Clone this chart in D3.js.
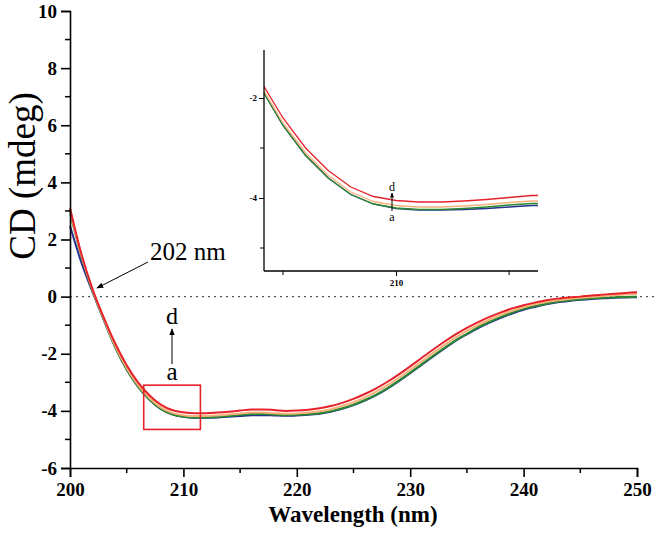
<!DOCTYPE html>
<html>
<head>
<meta charset="utf-8">
<script src="https://cdn.jsdelivr.net/npm/d3@7"></script>
<style>
  body { margin: 0; background: #fff; }
  svg { display: block; }
  .tick text { font-family: "Liberation Serif", serif; font-weight: bold; }
</style>
</head>
<body>
<div id="chart"></div>
<script>
// wavelength grid (nm)
var wavelengths = d3.range(200, 251, 1);

// CD signal (mdeg) for samples a-d
var seriesA = [2.47, 1.20, 0.15, -0.84, -1.78, -2.55, -3.15, -3.60, -3.93, -4.12, -4.21, -4.24, -4.24, -4.23, -4.21, -4.18, -4.15, -4.15, -4.16, -4.17, -4.16, -4.14, -4.10, -4.03, -3.93, -3.80, -3.64, -3.45, -3.22, -2.96, -2.68, -2.39, -2.10, -1.82, -1.55, -1.32, -1.10, -0.91, -0.74, -0.59, -0.46, -0.36, -0.27, -0.20, -0.15, -0.11, -0.08, -0.06, -0.04, -0.03, -0.02];
var seriesB = [2.95, 1.42, 0.20, -0.82, -1.78, -2.55, -3.15, -3.60, -3.93, -4.12, -4.20, -4.23, -4.23, -4.21, -4.18, -4.14, -4.11, -4.11, -4.13, -4.15, -4.14, -4.12, -4.08, -4.01, -3.91, -3.78, -3.62, -3.43, -3.20, -2.94, -2.66, -2.37, -2.08, -1.80, -1.53, -1.30, -1.07, -0.88, -0.71, -0.56, -0.43, -0.33, -0.25, -0.18, -0.13, -0.09, -0.06, -0.04, -0.02, -0.01, 0.00];
var seriesC = [3.00, 1.45, 0.22, -0.80, -1.74, -2.50, -3.10, -3.55, -3.88, -4.07, -4.15, -4.18, -4.18, -4.16, -4.13, -4.09, -4.06, -4.06, -4.08, -4.10, -4.09, -4.06, -4.01, -3.94, -3.83, -3.70, -3.53, -3.33, -3.10, -2.84, -2.56, -2.27, -1.98, -1.70, -1.43, -1.20, -0.99, -0.80, -0.63, -0.49, -0.37, -0.27, -0.19, -0.13, -0.08, -0.04, -0.01, 0.02, 0.05, 0.07, 0.09];
var seriesD = [3.10, 1.50, 0.25, -0.75, -1.65, -2.40, -3.00, -3.45, -3.78, -3.97, -4.05, -4.08, -4.08, -4.06, -4.03, -3.99, -3.95, -3.95, -3.97, -4.00, -3.99, -3.96, -3.91, -3.83, -3.72, -3.58, -3.41, -3.21, -2.98, -2.72, -2.44, -2.15, -1.86, -1.58, -1.32, -1.09, -0.89, -0.71, -0.55, -0.41, -0.30, -0.21, -0.13, -0.07, -0.03, 0.00, 0.04, 0.07, 0.10, 0.13, 0.15];

var seriesNames = ["a", "b", "c", "d"];
var seriesColors = ["#24318f", "#2b8a2f", "#f6b07a", "#e5222b"];

var xTicks = [200, 210, 220, 230, 240, 250];
var yTicks = [-6, -4, -2, 0, 2, 4, 6, 8, 10];
var insetXTicks = [210];
var insetYTicks = [-4, -2];
var zoomBox = { x0: 206.5, x1: 211.5, y0: -4.65, y1: -3.1 };

var W = 667, H = 535;
var svg = d3.select("#chart").append("svg").attr("width", W).attr("height", H);

var defs = svg.append("defs");
defs.append("marker").attr("id", "arrow")
    .attr("viewBox", "0 0 10 10").attr("refX", 9).attr("refY", 5)
    .attr("markerWidth", 7).attr("markerHeight", 7).attr("orient", "auto")
    .attr("markerUnits", "userSpaceOnUse")
    .append("path").attr("d", "M0,1 L10,5 L0,9 Z").attr("fill", "#000");
defs.append("marker").attr("id", "arrowSmall")
    .attr("viewBox", "0 0 10 10").attr("refX", 9).attr("refY", 5)
    .attr("markerWidth", 5).attr("markerHeight", 5).attr("orient", "auto")
    .attr("markerUnits", "userSpaceOnUse")
    .append("path").attr("d", "M0,1 L10,5 L0,9 Z").attr("fill", "#000");

var data = [seriesA, seriesB, seriesC, seriesD].map(function (vals, i) {
    return { name: seriesNames[i], color: seriesColors[i],
        values: vals.map(function (v, j) { return { x: wavelengths[j], y: v }; }) };
});

var plain = function (d) { return String(d); };

// main scales
var x = d3.scaleLinear().domain([200, 250]).range([70, 637]);
var y = d3.scaleLinear().domain([-6, 10]).range([468, 11]);

// zero line
svg.append("line")
    .attr("x1", x(200)).attr("x2", 657)
    .attr("y1", y(0)).attr("y2", y(0))
    .attr("stroke", "#555").attr("stroke-width", 1.2)
    .attr("stroke-dasharray", "2,4");

var line = d3.line().x(function (d) { return x(d.x); }).y(function (d) { return y(d.y); })
    .curve(d3.curveMonotoneX);

svg.selectAll(".curve").data(data).enter().append("path")
    .attr("class", "curve")
    .attr("d", function (d) { return line(d.values); })
    .attr("fill", "none").attr("stroke", function (d) { return d.color; })
    .attr("stroke-width", 2);

// axes
var xAxis = d3.axisBottom(x).tickValues(xTicks).tickSize(9).tickPadding(6).tickFormat(plain);
var gx = svg.append("g").attr("transform", "translate(0," + y(-6) + ")").call(xAxis);
gx.selectAll(".tick text").style("font-size", "19px");
gx.selectAll(".minor").data(d3.range(205, 250, 10)).enter().append("line")
    .attr("x1", function (d) { return x(d); }).attr("x2", function (d) { return x(d); })
    .attr("y1", 0).attr("y2", 5).attr("stroke", "#000").attr("stroke-width", 1.5);

var yAxis = d3.axisLeft(y).tickValues(yTicks).tickSize(9).tickPadding(4).tickFormat(plain);
var gy = svg.append("g").attr("transform", "translate(" + x(200) + ",0)").call(yAxis);
gy.selectAll(".tick text").style("font-size", "19px");
gy.selectAll(".minor").data(d3.range(-5, 10, 2)).enter().append("line")
    .attr("x1", 0).attr("x2", -5)
    .attr("y1", function (d) { return y(d); }).attr("y2", function (d) { return y(d); })
    .attr("stroke", "#000").attr("stroke-width", 1.5);
[gx, gy].forEach(function (g) {
    g.select(".domain").attr("stroke-width", 1.6);
    g.selectAll(".tick line").attr("stroke-width", 1.6);
});

// axis titles
svg.append("text")
    .attr("x", 353).attr("y", 522).attr("text-anchor", "middle")
    .style("font-family", "Liberation Serif, serif").style("font-weight", "bold").style("font-size", "23px")
    .text("Wavelength (nm)");
svg.append("text")
    .attr("transform", "translate(35,176) rotate(-90)").attr("text-anchor", "middle")
    .style("font-family", "Liberation Serif, serif").style("font-size", "37px")
    .text("CD (mdeg)");

// annotations
svg.append("text").attr("x", 150).attr("y", 260)
    .style("font-family", "Liberation Serif, serif").style("font-size", "25px")
    .text("202 nm");
svg.append("line").attr("x1", 148).attr("y1", 262).attr("x2", 97).attr("y2", 288)
    .attr("stroke", "#000").attr("stroke-width", 1).attr("marker-end", "url(#arrow)");
svg.append("text").attr("x", 172).attr("y", 324).attr("text-anchor", "middle")
    .style("font-family", "Liberation Serif, serif").style("font-size", "24px").text("d");
svg.append("text").attr("x", 172).attr("y", 380).attr("text-anchor", "middle")
    .style("font-family", "Liberation Serif, serif").style("font-size", "25px").text("a");
svg.append("line").attr("x1", 172).attr("y1", 364).attr("x2", 172).attr("y2", 329)
    .attr("stroke", "#000").attr("stroke-width", 1).attr("marker-end", "url(#arrow)");

// red box marking the zoomed region
svg.append("rect")
    .attr("x", x(zoomBox.x0)).attr("y", y(zoomBox.y1))
    .attr("width", x(zoomBox.x1) - x(zoomBox.x0)).attr("height", y(zoomBox.y0) - y(zoomBox.y1))
    .attr("fill", "none").attr("stroke", "#e5222b").attr("stroke-width", 1.6);

// inset
var ix = d3.scaleLinear().domain([204.16, 216.28]).range([264, 538]);
var iy = d3.scaleLinear().domain([-5.46, -1.04]).range([271, 50]);

defs.append("clipPath").attr("id", "insetClip").append("rect")
    .attr("x", 264).attr("y", 50).attr("width", 274).attr("height", 221);

var iline = d3.line().x(function (d) { return ix(d.x); }).y(function (d) { return iy(d.y); });
svg.append("g").attr("clip-path", "url(#insetClip)")
    .selectAll(".icurve").data(data).enter().append("path")
    .attr("d", function (d) { return iline(d.values); })
    .attr("fill", "none").attr("stroke", function (d) { return d.color; })
    .attr("stroke-width", 1.3);

var ixAxis = d3.axisBottom(ix).tickValues(insetXTicks).tickSize(5).tickPadding(4).tickFormat(plain);
var gix = svg.append("g").attr("transform", "translate(0,271)").call(ixAxis);
gix.select(".domain").attr("d", "M264,0H538");
gix.selectAll(".minor").data([205, 215]).enter().append("line")
    .attr("x1", function (d) { return ix(d); }).attr("x2", function (d) { return ix(d); })
    .attr("y1", 0).attr("y2", 4).attr("stroke", "#000");
var iyAxis = d3.axisLeft(iy).tickValues(insetYTicks).tickSize(5).tickPadding(2).tickFormat(plain);
var giy = svg.append("g").attr("transform", "translate(264,0)").call(iyAxis);
giy.select(".domain").attr("d", "M0,50V271");
giy.selectAll(".minor").data([-3, -5]).enter().append("line")
    .attr("x1", 0).attr("x2", -4)
    .attr("y1", function (d) { return iy(d); }).attr("y2", function (d) { return iy(d); })
    .attr("stroke", "#000");
[gix, giy].forEach(function (g) {
    g.selectAll(".tick text").style("font-size", "9px");
    g.select(".domain").attr("stroke-width", 1.3);
});

svg.append("text").attr("x", 392).attr("y", 191).attr("text-anchor", "middle")
    .style("font-family", "Liberation Serif, serif").style("font-size", "12px").text("d");
svg.append("text").attr("x", 392).attr("y", 221).attr("text-anchor", "middle")
    .style("font-family", "Liberation Serif, serif").style("font-size", "12px").text("a");
svg.append("line").attr("x1", 392).attr("y1", 211).attr("x2", 392).attr("y2", 193)
    .attr("stroke", "#000").attr("stroke-width", 1).attr("marker-end", "url(#arrowSmall)");
</script>
</body>
</html>
